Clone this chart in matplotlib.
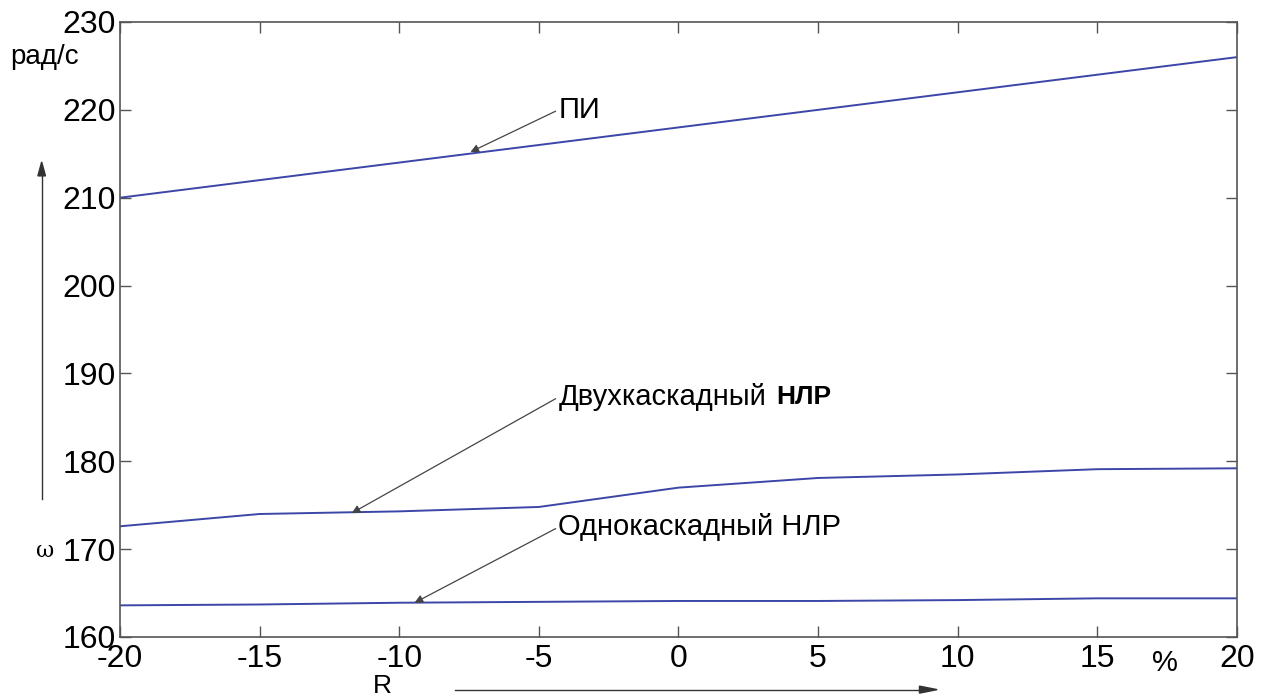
import matplotlib.pyplot as plt

plt.rcParams['font.family'] = ['Liberation Sans', 'DejaVu Sans']
plt.rcParams['axes.unicode_minus'] = False

# R, %
r = [-20, -15, -10, -5, 0, 5, 10, 15, 20]

# omega, rad/s
pi_reg = [210, 212, 214, 216, 218, 220, 222, 224, 226]
two_stage = [172.6, 174.0, 174.3, 174.8, 177.0, 178.1, 178.5, 179.1, 179.2]
one_stage = [163.6, 163.7, 163.9, 164.0, 164.1, 164.1, 164.2, 164.4, 164.4]

xticks = [-20, -15, -10, -5, 0, 5, 10, 15, 20]
yticks = [160, 170, 180, 190, 200, 210, 220, 230]

line_col = '#3c46a8'
grey = '#555555'

fig = plt.figure(figsize=(12.63, 6.98), dpi=100)
ax = fig.add_axes([0.095, 0.0874, 0.8844, 0.8811])

ax.plot(r, pi_reg, color=line_col, lw=1.4)
ax.plot(r, two_stage, color=line_col, lw=1.4)
ax.plot(r, one_stage, color=line_col, lw=1.4)

ax.set_xlim(-20, 20)
ax.set_ylim(160, 230)
ax.set_xticks(xticks)
ax.set_yticks(yticks)
ax.tick_params(direction='in', length=8, width=1, color=grey,
               top=True, right=True, labelsize=23)
ax.tick_params(axis='x', pad=5)
ax.tick_params(axis='y', pad=3)
for s in ax.spines.values():
    s.set_color(grey)
    s.set_linewidth(1.2)

arrow = dict(arrowstyle='-|>', color='#444444', lw=0.9, mutation_scale=12,
             shrinkA=0, shrinkB=0, relpos=(0, 0.5))
ax.annotate('ПИ', xy=(-7.45, 215.2), xytext=(-4.3, 220.0), fontsize=21,
            va='center', ha='left', arrowprops=arrow)
ax.annotate('Двухкаскадный', xy=(-11.7, 174.1), xytext=(-4.3, 187.3),
            fontsize=21, va='center', ha='left', arrowprops=arrow)
ax.text(3.5, 187.3, 'НЛР', fontsize=19, fontweight='bold',
        va='center', ha='left')
ax.annotate('Однокаскадный НЛР', xy=(-9.45, 163.9), xytext=(-4.3, 172.5),
            fontsize=21, va='center', ha='left', arrowprops=arrow)

# axis captions
fig.text(0.008, 0.918, 'рад/с', fontsize=20, ha='left', va='center')
fig.text(0.036, 0.21, 'ω', fontsize=16, ha='center', va='center',
         family=['DejaVu Serif'])
fig.text(0.303, 0.0, 'R', fontsize=19, ha='center', va='bottom')
fig.text(0.922, 0.05, '%', fontsize=21, ha='center', va='center')

fig.add_artist(plt.Line2D([0.033, 0.033], [0.285, 0.748], color='#333333',
                          lw=1))
fig.patches.append(plt.Polygon([[0.030, 0.748], [0.036, 0.748],
                                [0.033, 0.768]], closed=True,
                               transform=fig.transFigure, color='#333333'))
fig.add_artist(plt.Line2D([0.36, 0.728], [0.012, 0.012], color='#333333',
                          lw=1))
fig.patches.append(plt.Polygon([[0.728, 0.007], [0.728, 0.017],
                                [0.742, 0.012]], closed=True,
                               transform=fig.transFigure, color='#333333'))

fig.savefig('out.png', dpi=100)
